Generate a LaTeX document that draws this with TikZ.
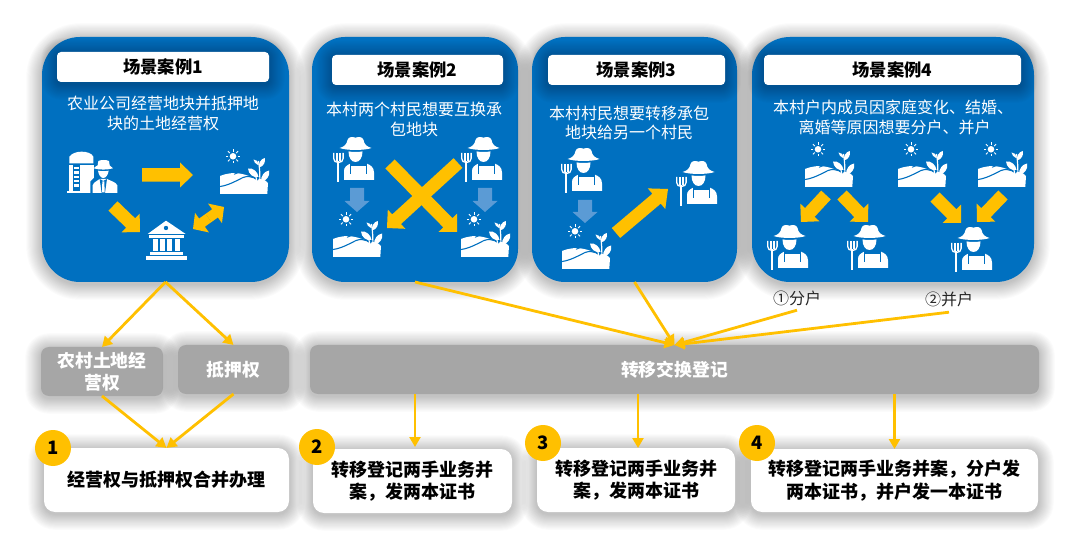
\documentclass[tikz,border=0pt]{standalone}
\usepackage{fontspec}
\usetikzlibrary{arrows.meta,calc}
\newfontfamily\cjk{Noto Sans CJK SC}
\definecolor{panelblue}{HTML}{0070C0}
\definecolor{gold}{HTML}{FFC000}
\definecolor{lightarrow}{HTML}{5B9BD5}
\definecolor{boxgray}{HTML}{A6A6A6}
\definecolor{labelgray}{HTML}{262626}
\tikzset{
  panel/.style={fill=panelblue},
  titlebox/.style={fill=white,text=black,font=\cjk\bfseries\fontsize{17.3}{20}\selectfont},
  graybox/.style={fill=boxgray,text=white,font=\cjk\bfseries\fontsize{17.8}{22.5}\selectfont},
  whitebox/.style={fill=white,text=black,font=\cjk\bfseries\fontsize{18}{22.5}\selectfont},
  desc/.style={text=white,align=center,inner sep=0pt,font=\cjk\fontsize{16}{19.5}\selectfont},
  caselabel/.style={text=labelgray,inner sep=0pt,font=\cjk\fontsize{16}{18}\selectfont},
  badge/.style={circle,fill=gold,text=black,inner sep=0pt,minimum size=36pt,font=\cjk\bfseries\fontsize{18.5}{20}\selectfont},
  link/.style={draw=gold,line width=2.8pt,-{Triangle[length=10pt,width=11pt]}},
}
% soft shadow: stacked translucent rounded rectangles
\newcommand{\softshadow}[7]{%
  \foreach \i in {1,...,15}{%
    \pgfmathsetmacro{\shE}{\i*#7}%
    \pgfmathsetmacro{\shR}{#5+\shE}%
    \fill[black,fill opacity=.017,rounded corners=\shR pt]
      ({#1-\shE},{#2+#6-\shE}) rectangle ({#3+\shE},{#4+#6+\shE});
  }%
}
% box node from corners: name x1 y1 x2 y2 radius style text
\newcommand{\bx}[8]{%
  \softshadow{#2}{#3}{#4}{#5}{#6}{2}{1.05}%
  \pgfmathsetmacro{\bxCx}{(#2+#4)/2}%
  \pgfmathsetmacro{\bxCy}{(#3+#5)/2}%
  \pgfmathsetmacro{\bxW}{#4-#2}%
  \pgfmathsetmacro{\bxH}{#5-#3}%
  \node[#7,name=#1,rectangle,rounded corners=#6pt,inner sep=0pt,outer sep=0pt,align=center,
        minimum width=\bxW pt,minimum height=\bxH pt] at (\bxCx,\bxCy) {#8};
}
% block arrow: x1 y1 x2 y2 shaft headwidth headlength colour
\newcommand{\blockarrow}[8]{%
  \pgfmathsetmacro{\baDx}{#3-#1}\pgfmathsetmacro{\baDy}{#4-#2}%
  \pgfmathsetmacro{\baL}{sqrt(\baDx*\baDx+\baDy*\baDy)}%
  \pgfmathsetmacro{\baUx}{\baDx/\baL}\pgfmathsetmacro{\baUy}{\baDy/\baL}%
  \pgfmathsetmacro{\baHx}{#3-\baUx*#7}\pgfmathsetmacro{\baHy}{#4-\baUy*#7}%
  \fill[#8]
    ({#1-\baUy*#5/2},{#2+\baUx*#5/2}) -- ({\baHx-\baUy*#5/2},{\baHy+\baUx*#5/2}) --
    ({\baHx-\baUy*#6/2},{\baHy+\baUx*#6/2}) -- (#3,#4) --
    ({\baHx+\baUy*#6/2},{\baHy-\baUx*#6/2}) -- ({\baHx+\baUy*#5/2},{\baHy-\baUx*#5/2}) --
    ({#1+\baUy*#5/2},{#2-\baUx*#5/2}) -- cycle;
}
% double block arrow
\newcommand{\doublearrow}[7]{%
  \pgfmathsetmacro{\daMx}{(#1+#3)/2}\pgfmathsetmacro{\daMy}{(#2+#4)/2}%
  \blockarrow{\daMx}{\daMy}{#1}{#2}{#5}{#6}{#7}{gold}%
  \blockarrow{\daMx}{\daMy}{#3}{#4}{#5}{#6}{#7}{gold}%
}
% farmer icon, top-left at x y
\newcommand{\farmer}[2]{%
 \begin{scope}[shift={(#1,#2)}]
  \fill[white] (6.7,11) .. controls (11,9.6) and (13.5,8) .. (14.5,3) .. controls (15.5,-.3) and (19,-.3) .. (22.5,.6)
     .. controls (26,-.3) and (29.5,-.3) .. (30.5,3) .. controls (31.5,8) and (34,9.6) .. (38.5,11)
     .. controls (32,13.6) and (13,13.6) .. cycle;
  \fill[white] (15.5,14.4) .. controls (15.5,21) and (18.5,25) .. (22.5,25)
     .. controls (26.5,25) and (29.5,21) .. (29.5,14.4) .. controls (25,15.2) and (20,15.2) .. cycle;
  \fill[white] (11,43) -- (11,34) .. controls (11,30) and (13.5,28.5) .. (18,26.3) -- (33,26.3)
     .. controls (37.5,28) and (41,30) .. (41,35.5) -- (41,43) -- cycle;
  \fill[panelblue] (18.2,25.8) rectangle (33.2,29.5);
  \draw[panelblue,line width=.8pt] (17.6,26) -- (17.6,37.5) (33.8,26) -- (33.8,37.5);
  \draw[white,line width=2pt] (5.4,24) -- (5.4,45.5);
  \draw[white,line width=1.3pt] (.7,16) -- (.7,21.5) .. controls (.7,24) and (2.5,25.5) .. (5.4,25.5)
     .. controls (8.3,25.5) and (10.1,24) .. (10.1,21.5) -- (10.1,16);
  \draw[white,line width=1.2pt] (3.9,16) -- (3.9,24) (6.9,16) -- (6.9,24);
 \end{scope}}
% field icon, top-left at x y
\newcommand{\fieldicon}[2]{%
 \begin{scope}[shift={(#1,#2)}]
  \fill[white] (13,6.3) circle (3.3);
  \foreach \a in {0,45,...,315}{\draw[white,line width=.9pt] ($(13,6.3)+(\a:4.6)$) -- ($(13,6.3)+(\a:7.2)$);}
  \fill[white] (0,26) .. controls (6,23.5) and (14,22) .. (22,24) .. controls (27,25) and (32,27) .. (37,29.5)
     .. controls (41,28.5) and (45,29.5) .. (48,33) -- (47.3,44) -- (0,44) -- cycle;
  \draw[panelblue,line width=1.1pt] (0,36.5) .. controls (8,35.5) and (16,31) .. (23,27.5) .. controls (27,26) and (32,26) .. (38,30);
  \draw[panelblue,line width=.9pt] (14,24.3) .. controls (20,21) and (25,21.8) .. (30,24.5);
  \draw[white,line width=1.2pt] (39.8,33) .. controls (40,26) and (39.8,18) .. (38.5,11);
  \draw[white,line width=1.1pt] (36.6,33) .. controls (36.8,30) and (36.6,28) .. (35.6,26);
  \fill[white] (38.5,27) .. controls (38,22) and (33,17.5) .. (28,18.5) .. controls (28.5,24) and (33,28) .. (38.5,27) -- cycle;
  \fill[white] (39,17.5) .. controls (38.5,13) and (41,8.8) .. (44.7,8) .. controls (46,12) and (43.5,16.5) .. (39,17.5) -- cycle;
  \fill[white] (38,15) .. controls (35.5,14) and (34,12) .. (33.5,9.5) .. controls (36.5,9.5) and (38.5,11.5) .. (38.6,14.5) -- cycle;
  \fill[white] (41,32) .. controls (40.5,26) and (44.5,21) .. (49.2,20.5) .. controls (50.2,26) and (46.5,31) .. (41,32) -- cycle;
 \end{scope}}
\begin{document}
\begin{tikzpicture}[x=1pt,y=-1pt]
\useasboundingbox (0,0) rectangle (1080,548);
\fill[white] (0,0) rectangle (1080,548);

% scenario panels
\bx{p1}{42}{37}{289}{282}{38}{panel}{}
\bx{p2}{312}{37}{518}{282}{33}{panel}{}
\bx{p3}{532}{37}{737}{282}{33}{panel}{}
\bx{p4}{752}{37}{1034}{282}{38}{panel}{}

% title bars
\bx{t1}{57}{52}{269}{82}{4}{titlebox}{场景案例1}
\bx{t2}{332}{55}{503}{85}{4}{titlebox}{场景案例2}
\bx{t3}{548}{55}{725}{85}{4}{titlebox}{场景案例3}
\bx{t4}{764}{55}{1021}{85}{4}{titlebox}{场景案例4}

% descriptions
\node[desc,name=d1] at (163,113.5) {农业公司经营地块并抵押地\\块的土地经营权};
\node[desc,name=d2] at (414,119.5) {本村两个村民想要互换承\\包地块};
\node[desc,name=d3] at (629,123) {本村村民想要转移承包\\地块给另一个村民};
\node[desc,name=d4] at (893,117.5) {本村户内成员因家庭变化、结婚、\\\hspace*{3pt}离婚等原因想要分户、并户};

% panel 1 icons
\begin{scope}[shift={(30,30)},scale=1/3]
  % silo
  \fill[white] (118,400) -- (118,380) .. controls (125,370) and (140,365) .. (155,365) .. controls (170,365) and (186,370) .. (190,380) -- (190,400) -- cycle;
  \fill[white] (118,405) rectangle (192,482);
  \fill[white] (110,482) rectangle (194,489);
  \fill[panelblue] (130,405) rectangle (150,482);
  \foreach \q in {411,424,437,450,463}{\fill[white] (132,\q) rectangle (148,\q+7);}
  % person, with a blue halo cut from the silo
  \fill[panelblue] (181,489) -- (181,455) -- (196,440) -- (196,385) -- (265,385) -- (265,489) -- cycle;
  \fill[white] (203,406) -- (205,393) .. controls (214,389) and (228,389) .. (237,393) -- (239,406) .. controls (243,408) and (246,411) .. (249,415) .. controls (232,420) and (208,420) .. (191,415) .. controls (195,411) and (199,408) .. (203,406) -- cycle;
  \fill[white] (204,422) .. controls (206,436) and (213,444) .. (220,444) .. controls (227,444) and (234,436) .. (236,422) .. controls (226,424) and (214,424) .. (204,422) -- cycle;
  \fill[white] (188,489) -- (188,466) .. controls (190,457) and (203,452) .. (209,447) -- (231,447) .. controls (240,452) and (258,456) .. (262,466) -- (262,489) -- cycle;
  \fill[panelblue] (209,447) -- (220,453) -- (231,447) -- (225,489) -- (215,489) -- cycle;
  \fill[white] (217,454) -- (223,454) -- (224,487) -- (216,487) -- cycle;
\end{scope}
\fieldicon{220}{150}
\begin{scope}[shift={(30,30)},scale=1/3]
  % bank
  \fill[white] (408,572) -- (467,612) -- (353,612) -- cycle;
  \fill[panelblue] (408,594) circle (6.5);
  \fill[white] (357,616) rectangle (461,624);
  \foreach \q in {368,390,412,434}{\fill[white] (\q,627) rectangle (\q+15,663);}
  \fill[white] (360,666) rectangle (458,675);
  \fill[white] (348,678) rectangle (472,690);
\end{scope}
\blockarrow{142}{175}{193}{175}{13.5}{25}{13}{gold}
\blockarrow{113}{206}{140}{232}{13}{26}{13}{gold}
\doublearrow{193}{229}{224}{207}{10}{24}{11}

% panel 2 icons
\farmer{333}{137}
\farmer{461}{137}
\blockarrow{357}{188}{357}{212}{14}{25}{11}{lightarrow}
\blockarrow{485}{188}{485}{212}{14}{25}{11}{lightarrow}
\fieldicon{333}{213}
\fieldicon{461}{213}
\blockarrow{458}{163}{387}{228}{13}{26}{13}{gold}
\blockarrow{390}{164}{457}{232}{13}{26}{13}{gold}

% panel 3 icons
\farmer{561}{148}
\farmer{676}{161}
\blockarrow{585}{200}{585}{223}{14}{25}{11}{lightarrow}
\fieldicon{562}{225}
\blockarrow{616}{233}{668}{189}{13}{27}{15}{gold}

% panel 4 icons
\fieldicon{805}{143}
\fieldicon{898}{143}
\fieldicon{978}{143}
\blockarrow{826}{195}{801}{222}{13}{26}{13}{gold}
\blockarrow{842}{195}{868}{222}{13}{26}{13}{gold}
\blockarrow{935}{197}{961}{223}{13}{26}{13}{gold}
\blockarrow{1003}{195}{977}{222}{13}{26}{13}{gold}
\farmer{767}{225}
\farmer{847}{225}
\farmer{951}{227}

% labels under panel 4
\node[caselabel,name=fen,minimum height=24pt] at (797,298) {①分户};
\node[caselabel,name=bing,minimum height=26pt] at (949,299) {②并户};

% gray boxes
\bx{ga}{41}{347}{163}{396}{8}{graybox}{农村土地经\\营权}
\bx{gb}{178}{345}{289}{394}{8}{graybox}{抵押权}
\bx{gc}{310}{345}{1039}{394}{8}{graybox}{转移交换登记}

% white result boxes
\bx{w1}{44}{448}{289}{512}{11}{whitebox}{经营权与抵押权合并办理}
\bx{w2}{313}{449}{512}{513}{11}{whitebox}{转移登记两手业务并\\案，发两本证书}
\bx{w3}{537}{448}{735}{512}{11}{whitebox}{转移登记两手业务并\\案，发两本证书}
\bx{w4}{751}{449}{1038}{512}{11}{whitebox}{转移登记两手业务并案，分户发\\两本证书，并户发一本证书}

% number badges
\node[badge,name=n1] at (53,448) {\raisebox{-1.5pt}{1}};
\node[badge,name=n2] at (317,447) {\raisebox{-1.5pt}{2}};
\node[badge,name=n3] at (543,443) {\raisebox{-1.5pt}{3}};
\node[badge,name=n4] at (757,443) {\raisebox{-1.5pt}{4}};

% connectors
\draw[link] (p1.south) -- (ga.north);
\draw[link] (p1.south) -- (gb.north);
\draw[link] (ga.south) -- (w1.north);
\draw[link] (gb.south) -- (w1.north);
\draw[link] (p2.south) -- (gc.north);
\draw[link] (p3.south) -- (gc.north);
\draw[link] (fen.south) -- (gc.north);
\draw[link] (bing.south) -- (gc.north);
\draw[link] ([xshift=2.5pt]w2.north |- gc.south) -- ([xshift=2.5pt,yshift=2pt]w2.north);
\draw[link] ([xshift=2pt]w3.north |- gc.south) -- ([xshift=2pt]w3.north);
\draw[link] (w4.north |- gc.south) -- (w4.north);
\end{tikzpicture}
\end{document}
